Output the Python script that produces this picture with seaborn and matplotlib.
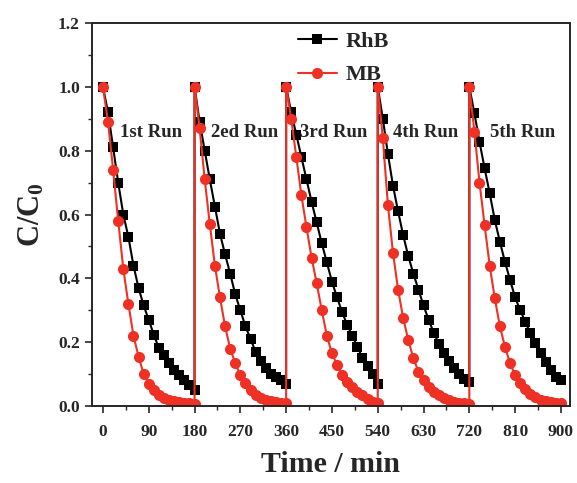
"""Cyclic photodegradation of RhB and MB: C/C0 versus time over five runs."""

import matplotlib

matplotlib.use("Agg")
import matplotlib.pyplot as plt
import pandas as pd
import seaborn as sns
from matplotlib.ticker import FormatStrFormatter, MultipleLocator

# Sampling minutes inside one run, and the start time of each of the five runs.
RUN_MINUTES = [0, 10, 20, 30, 40, 50, 60, 70, 80, 90,
               100, 110, 120, 130, 140, 150, 160, 170, 180]
RUN_STARTS = [0, 180, 360, 540, 720]
RUN_LABELS = ["1st Run", "2ed Run", "3rd Run", "4th Run", "5th Run"]
RUN_LABEL_X = [34, 213, 388, 570, 761]
RUN_LABEL_Y = 0.856

# C/C0, one list per run.
RHB_RUNS = [
    [1.0, 0.92, 0.81, 0.70, 0.60, 0.53, 0.44, 0.37, 0.315, 0.27,
     0.223, 0.181, 0.16, 0.134, 0.113, 0.097, 0.081, 0.066, 0.05],
    [1.0, 0.89, 0.80, 0.71, 0.625, 0.54, 0.475, 0.415, 0.35, 0.30,
     0.25, 0.21, 0.17, 0.14, 0.12, 0.10, 0.09, 0.08, 0.07],
    [1.0, 0.92, 0.85, 0.78, 0.71, 0.64, 0.575, 0.51, 0.45, 0.39,
     0.34, 0.295, 0.254, 0.22, 0.186, 0.15, 0.125, 0.10, 0.07],
    [1.0, 0.90, 0.79, 0.69, 0.61, 0.535, 0.47, 0.415, 0.365, 0.315,
     0.27, 0.23, 0.195, 0.165, 0.14, 0.12, 0.10, 0.085, 0.075],
    [1.0, 0.917, 0.828, 0.745, 0.667, 0.583, 0.515, 0.452, 0.395, 0.34,
     0.30, 0.264, 0.228, 0.196, 0.165, 0.139, 0.113, 0.092, 0.082],
]
MB_RUNS = [
    [1.0, 0.89, 0.74, 0.58, 0.43, 0.32, 0.22, 0.155, 0.10, 0.07,
     0.05, 0.035, 0.025, 0.02, 0.015, 0.012, 0.01, 0.008, 0.007],
    [1.0, 0.87, 0.71, 0.57, 0.44, 0.34, 0.25, 0.18, 0.135, 0.097,
     0.071, 0.05, 0.036, 0.026, 0.02, 0.015, 0.012, 0.01, 0.008],
    [1.0, 0.90, 0.78, 0.66, 0.56, 0.465, 0.385, 0.30, 0.22, 0.165,
     0.13, 0.097, 0.074, 0.058, 0.045, 0.033, 0.022, 0.014, 0.01],
    [1.0, 0.84, 0.63, 0.48, 0.365, 0.275, 0.207, 0.15, 0.108, 0.082,
     0.06, 0.045, 0.034, 0.025, 0.018, 0.013, 0.01, 0.008, 0.007],
    [1.0, 0.86, 0.70, 0.567, 0.44, 0.338, 0.25, 0.186, 0.134, 0.097,
     0.071, 0.052, 0.038, 0.028, 0.02, 0.015, 0.012, 0.01, 0.008],
]

RHB_COLOR = "#000000"
MB_COLOR = "#ee3124"


def build_frame(runs, name):
    rows = []
    for start, values in zip(RUN_STARTS, runs):
        for minute, value in zip(RUN_MINUTES, values):
            rows.append({"time": start + minute, "ratio": value, "dye": name})
    return pd.DataFrame(rows)


sns.set_style("ticks")
plt.rcParams["font.family"] = ["Liberation Serif", "DejaVu Serif"]
plt.rcParams["font.weight"] = "bold"
plt.rcParams["mathtext.fontset"] = "custom"
plt.rcParams["mathtext.rm"] = "Liberation Serif:bold"
plt.rcParams["mathtext.it"] = "Liberation Serif:bold"
plt.rcParams["mathtext.bf"] = "Liberation Serif:bold"

rhb = build_frame(RHB_RUNS, "RhB")
mb = build_frame(MB_RUNS, "MB")

fig = plt.figure(figsize=(5.77, 4.83), dpi=100)
ax = fig.add_axes([0.159, 0.1594, 0.829, 0.793])

sns.lineplot(data=rhb, x="time", y="ratio", sort=False, estimator=None,
             color=RHB_COLOR, marker="s", markersize=6.6, markeredgewidth=0,
             linewidth=1.5, label="RhB", ax=ax)
sns.lineplot(data=mb, x="time", y="ratio", sort=False, estimator=None,
             color=MB_COLOR, marker="o", markersize=8.0, markeredgewidth=0,
             linewidth=1.5, label="MB", ax=ax)

for text, x in zip(RUN_LABELS, RUN_LABEL_X):
    ax.text(x, RUN_LABEL_Y, text, ha="left", va="center",
            fontsize=13.5, fontweight="bold")

ax.set_xlim(-22, 918)
ax.set_ylim(0, 1.2)
ax.xaxis.set_major_locator(MultipleLocator(90))
ax.xaxis.set_minor_locator(MultipleLocator(45))
ax.yaxis.set_major_locator(MultipleLocator(0.2))
ax.yaxis.set_minor_locator(MultipleLocator(0.1))
ax.yaxis.set_major_formatter(FormatStrFormatter("%.1f"))
ax.tick_params(which="major", direction="out", length=5, width=1.2,
               labelsize=12.5)
ax.tick_params(which="minor", direction="out", length=3, width=1.0)
ax.tick_params(axis="x", which="major", pad=8)
for spine in ax.spines.values():
    spine.set_visible(True)
    spine.set_linewidth(1.4)
for label in ax.get_xticklabels() + ax.get_yticklabels():
    label.set_fontweight("bold")

ax.set_xlabel("Time / min", fontsize=21.5, fontweight="bold", labelpad=8)
ax.set_ylabel("C/C$_0$", fontsize=22, fontweight="bold", labelpad=8)

ax.legend(loc="upper left", bbox_to_anchor=(0.408, 1.008), frameon=False,
          borderpad=0, handlelength=1.75, handletextpad=0.4,
          labelspacing=0.6, prop={"weight": "bold", "size": 16})

fig.savefig("out.png", dpi=100)
